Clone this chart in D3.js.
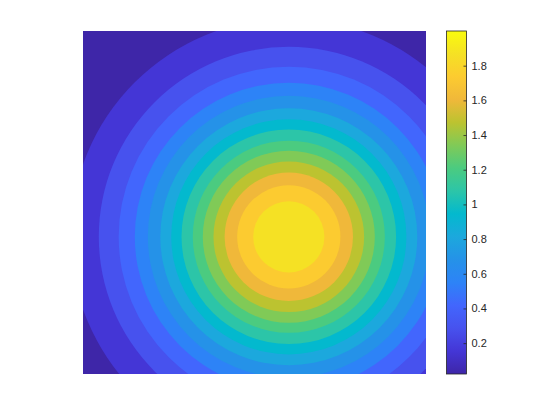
<!DOCTYPE html>
<html>
<head>
<meta charset="utf-8">
<title>contourf</title>
<script src="https://cdn.jsdelivr.net/npm/d3@7"></script>
<style>
  body { margin: 0; background: #fff; }
</style>
</head>
<body>
<script>
// values (data units: x -3..2, y -2..3, peak at 0,0)
var zMin = 0.022, zMax = 2.0;
var levels = [0.154, 0.286, 0.418, 0.550, 0.681, 0.813, 0.945, 1.077, 1.209, 1.341, 1.472, 1.604, 1.736, 1.868];
var ringRadius = [3.18, 2.77, 2.48, 2.245, 2.055, 1.873, 1.714, 1.564, 1.40, 1.254, 1.098, 0.936, 0.752, 0.519];
var cbTicks = [0.2, 0.4, 0.6, 0.8, 1, 1.2, 1.4, 1.6, 1.8];

// parula-ish anchors
var parulaStops = ["#3e26a8", "#4436d6", "#4752ee", "#4266fd", "#2d83f7", "#2592e8", "#1ca8dd", "#03b9ce",
                   "#2cc5a8", "#4bcb80", "#80ca57", "#bcc330", "#f0b83a", "#fccb30", "#f5e124", "#f9fb0e"];
var parula = d3.scaleLinear()
    .domain(d3.range(parulaStops.length).map(function (i) { return i / (parulaStops.length - 1); }))
    .range(parulaStops)
    .interpolate(d3.interpolateRgb);
var cnorm = d3.scaleLinear().domain([zMin, zMax]).range([0, 1]);

var width = 560, height = 420;
var pL = 83, pR = 426, pT = 31, pB = 374;

var svg = d3.select("body").append("svg")
    .attr("width", width).attr("height", height);

var x = d3.scaleLinear().domain([-3, 2]).range([pL, pR]);
var y = d3.scaleLinear().domain([-2, 3]).range([pB, pT]);

svg.append("clipPath").attr("id", "plotclip")
  .append("rect")
    .attr("x", pL).attr("y", pT)
    .attr("width", pR - pL).attr("height", pB - pT);

var plot = svg.append("g").attr("clip-path", "url(#plotclip)");

// lowest region
plot.append("rect")
    .attr("x", pL).attr("y", pT)
    .attr("width", pR - pL).attr("height", pB - pT)
    .attr("fill", parula(cnorm(zMin)));

var rings = levels.map(function (l, i) { return { level: l, r: ringRadius[i] }; });

plot.selectAll("circle")
    .data(rings)
    .enter()
    .append("circle")
    .attr("cx", x(0))
    .attr("cy", y(0))
    .attr("r", function (d) { return x(d.r) - x(0); })
    .attr("fill", function (d) { return parula(cnorm(d.level)); });

// colorbar
var cbL = 446.5, cbW = 20;
var cbY = d3.scaleLinear().domain([zMin, zMax]).range([pB, pT]);

var grad = svg.append("defs").append("linearGradient")
    .attr("id", "cbgrad")
    .attr("x1", 0).attr("y1", 1).attr("x2", 0).attr("y2", 0);
grad.selectAll("stop")
    .data(parulaStops)
    .enter()
    .append("stop")
    .attr("offset", function (d, i) { return i / (parulaStops.length - 1); })
    .attr("stop-color", function (d) { return d; });

svg.append("rect")
    .attr("x", cbL).attr("y", pT)
    .attr("width", cbW).attr("height", pB - pT)
    .attr("fill", "url(#cbgrad)")
    .attr("stroke", "#262626")
    .attr("stroke-width", 0.8);

var axis = d3.axisRight(cbY)
    .tickValues(cbTicks)
    .tickSize(-3)
    .tickPadding(5)
    .tickFormat(d3.format("~g"));

var g = svg.append("g")
    .attr("transform", "translate(" + (cbL + cbW) + ",0)")
    .call(axis);
g.select(".domain").remove();
g.selectAll(".tick line").attr("stroke", "#262626").attr("stroke-width", 0.8);
g.selectAll(".tick text")
    .attr("font-family", "'Liberation Sans', Arial, sans-serif")
    .attr("font-size", 11)
    .attr("fill", "#262626");
</script>
</body>
</html>
